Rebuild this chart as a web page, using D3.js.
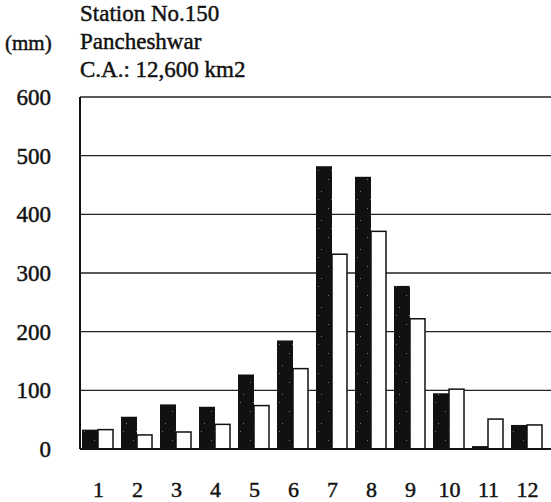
<!DOCTYPE html>
<html><head><meta charset="utf-8">
<script src="https://cdnjs.cloudflare.com/ajax/libs/d3/7.8.5/d3.min.js"></script>
<style>
html,body{margin:0;padding:0;background:#fff;}
text{font-family:"Liberation Serif","Times New Roman",serif;fill:#111;stroke:#111;stroke-width:0.45px;}
</style></head>
<body><svg id="chart" width="551" height="502"></svg>
<script>
const months = ["1","2","3","4","5","6","7","8","9","10","11","12"];
const seriesDark = [33, 55, 76, 72, 127, 185, 482, 464, 278, 95, 5, 41];
const seriesWhite = [33, 24, 29, 42, 74, 137, 332, 371, 222, 102, 51, 41];
const yTicks = [0, 100, 200, 300, 400, 500, 600];
const titleLines = ["Station No.150", "Pancheshwar", "C.A.: 12,600 km2"];
const unitLabel = "(mm)";

(function(){
const svg = d3.select("#chart");
const pL = 80, pR = 551, pT = 97, pB = 449;

const defs = svg.append("defs");
const pat = defs.append("pattern").attr("id", "speck").attr("patternUnits", "userSpaceOnUse")
  .attr("width", 13).attr("height", 29);
pat.append("rect").attr("width", 13).attr("height", 29).attr("fill", "#111");
[[3,5],[9,17],[6,25]].forEach(p => pat.append("rect")
  .attr("x", p[0]).attr("y", p[1]).attr("width", 1).attr("height", 1).attr("fill", "#777"));

const x = d3.scaleBand().domain(months).range([79, 547]).paddingInner(0).paddingOuter(0);
const sub = d3.scaleBand().domain(["dark","white"]).range([3, 35]).padding(0);
const y = d3.scaleLinear().domain([0, 600]).range([pB, pT]);

svg.append("g").selectAll("line").data(yTicks.filter(d => d > 0 && d < 600)).join("line")
  .attr("x1", pL).attr("x2", pR)
  .attr("y1", d => y(d)).attr("y2", d => y(d))
  .attr("stroke", "#222").attr("stroke-width", 1.3);

svg.append("line").attr("x1", pL).attr("x2", pR).attr("y1", y(600)).attr("y2", y(600))
  .attr("stroke", "#222").attr("stroke-width", 1.3);
svg.append("line").attr("x1", pL).attr("x2", pL).attr("y1", y(600)).attr("y2", y(0))
  .attr("stroke", "#111").attr("stroke-width", 2);

const rows = months.map((m, i) => ({m, dark: seriesDark[i], white: seriesWhite[i]}));

const g = svg.append("g");
g.selectAll("rect.dark").data(rows).join("rect").attr("class", "dark")
  .attr("x", d => x(d.m) + sub("dark"))
  .attr("width", sub.bandwidth())
  .attr("y", d => y(d.dark))
  .attr("height", d => y(0) - y(d.dark))
  .attr("fill", "url(#speck)");
g.selectAll("rect.white").data(rows).join("rect").attr("class", "white")
  .attr("x", d => x(d.m) + sub("white"))
  .attr("width", sub.bandwidth() - 1)
  .attr("y", d => y(d.white))
  .attr("height", d => y(0) - y(d.white))
  .attr("fill", "#fff").attr("stroke", "#111").attr("stroke-width", 1.5);

svg.append("line").attr("x1", pL).attr("x2", pR).attr("y1", y(0)).attr("y2", y(0))
  .attr("stroke", "#111").attr("stroke-width", 2);

svg.append("g").selectAll("text").data(yTicks).join("text")
  .attr("x", 51).attr("y", d => y(d)).attr("dy", "0.35em")
  .attr("text-anchor", "end").attr("font-size", 23)
  .text(d => d);

svg.append("g").selectAll("text").data(months).join("text")
  .attr("x", d => x(d) + x.bandwidth() / 2).attr("y", 497)
  .attr("text-anchor", "middle").attr("font-size", 22)
  .text(d => d);

svg.append("g").selectAll("text").data(titleLines).join("text")
  .attr("x", 80).attr("y", (d, i) => 21 + i * 28)
  .attr("font-size", 23)
  .text(d => d);
svg.append("text").attr("x", 5).attr("y", 50).attr("font-size", 21).text(unitLabel);
})();
</script></body></html>
